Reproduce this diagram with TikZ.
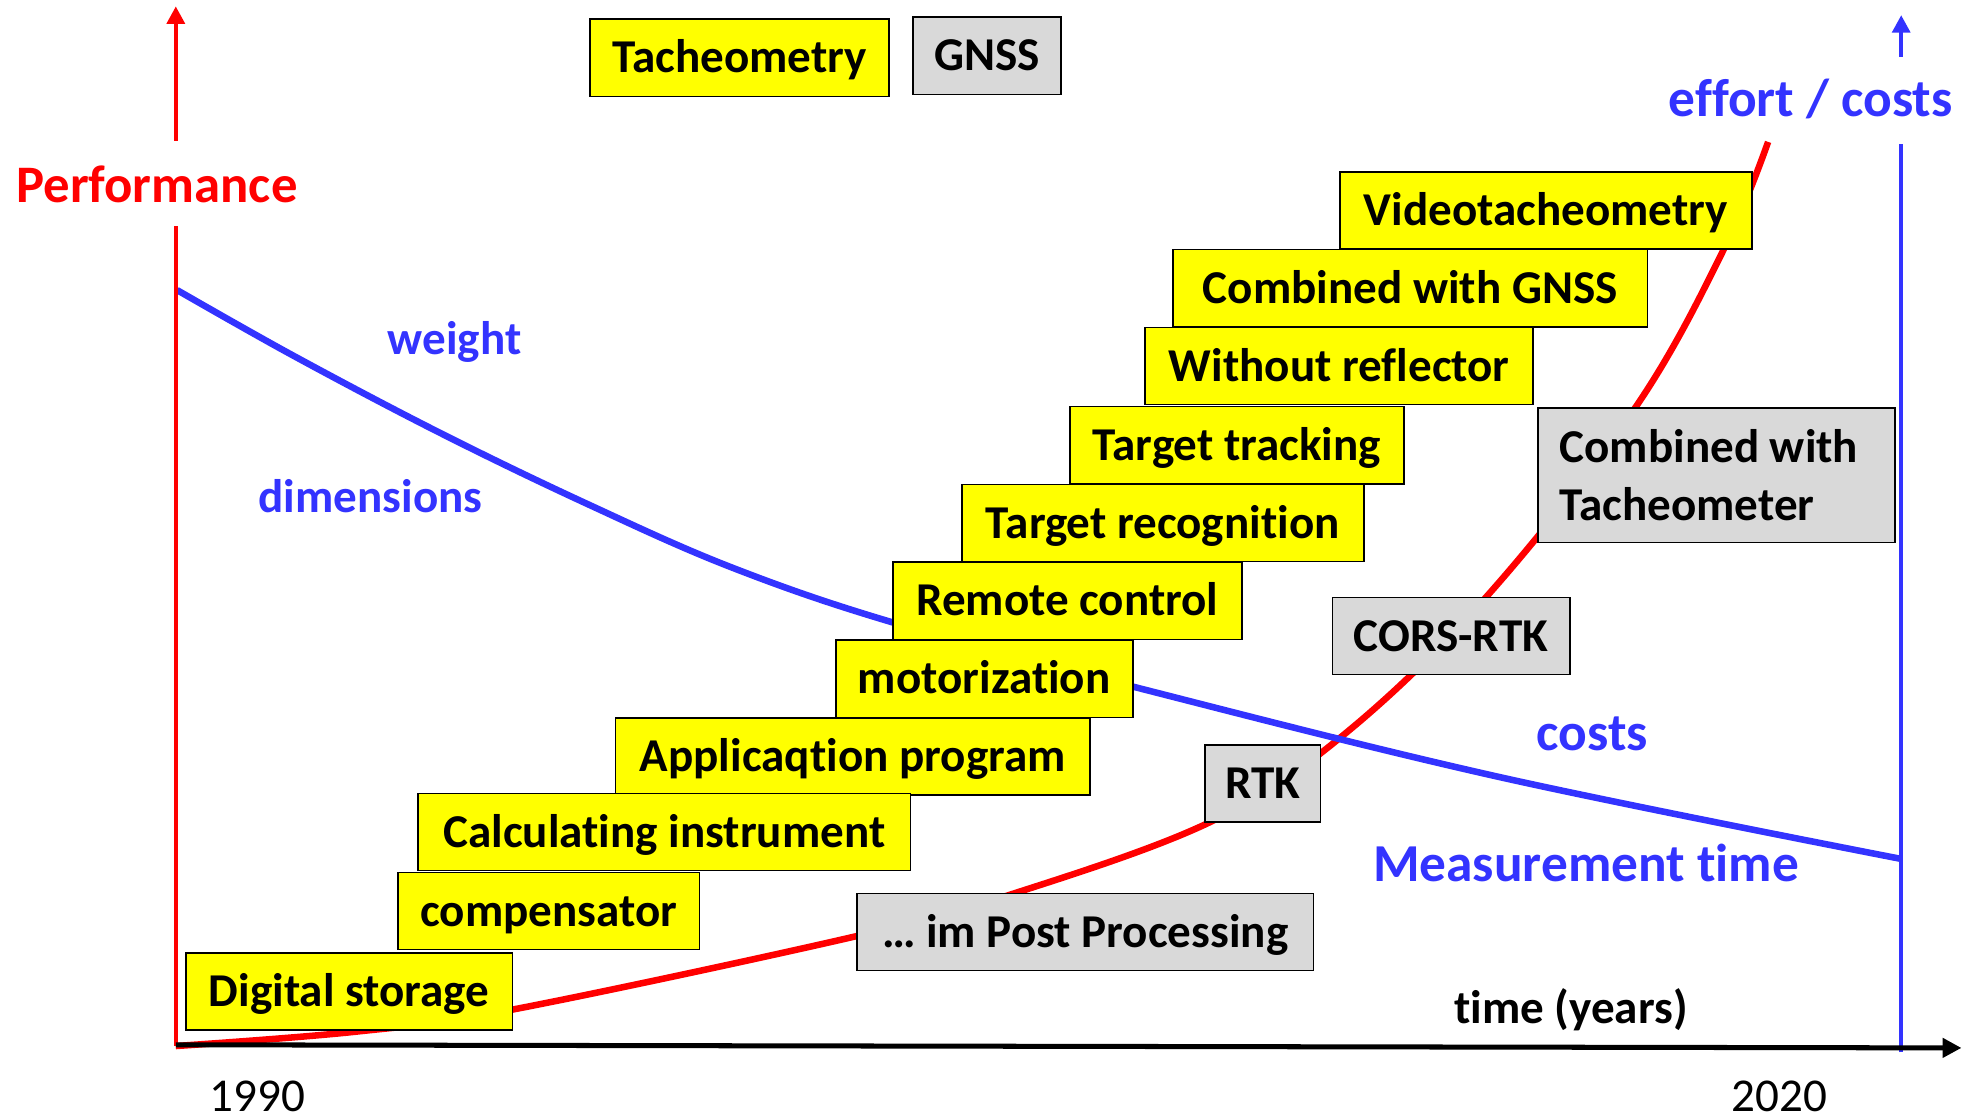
\documentclass[tikz,border=0pt]{standalone}
\usepackage{fontspec}
\setmainfont{Carlito}[Ligatures=NoCommon]
\usetikzlibrary{arrows.meta}
\definecolor{boxyellow}{RGB}{255,255,0}
\definecolor{boxgray}{RGB}{217,217,217}
\definecolor{curveblue}{RGB}{51,51,255}
\definecolor{axisred}{RGB}{255,0,0}
\tikzset{
  lbl/.style={inner sep=0pt, text height=24pt, text depth=0pt,
    font=\fontsize{37.5}{46}\selectfont\bfseries},
  biglbl/.style={inner sep=0pt, text height=26pt, text depth=0pt,
    font=\fontsize{42.5}{50}\selectfont\bfseries},
  yearlbl/.style={inner sep=0pt, text height=24pt, text depth=0pt,
    font=\fontsize{37.5}{46}\selectfont},
  ybox/.style={draw=black, line width=1.3pt, fill=boxyellow, inner sep=0pt,
    minimum height=61.5pt, text height=24pt, text depth=0pt,
    font=\fontsize{37.5}{46}\selectfont\bfseries},
  gbox/.style={ybox, fill=boxgray},
  redaxis/.style={draw=axisred, line width=3.5pt},
  blueaxis/.style={draw=curveblue, line width=3.5pt},
  timeaxis/.style={draw=black, line width=4pt},
  curve/.style={line width=5.2pt},
  tip/.style={-{Triangle[length=14pt,width=14pt]}},
}
\begin{document}
\begin{tikzpicture}[x=1pt,y=-1pt]
\path[use as bounding box, fill=white] (0,0) rectangle (1568,890);

% axes
\coordinate (O) at (140,833);
\coordinate (ytip) at (140,5);
\coordinate (ygaplow) at (140,180);
\coordinate (ygaphigh) at (140,112);
\coordinate (xstart) at (140,832);
\coordinate (xtip) at (1562,834.5);
\coordinate (bbase) at (1514,838);
\coordinate (bgaplow) at (1514,115);
\coordinate (bgaphigh) at (1514,45);
\coordinate (btip) at (1514,12);

% performance curve (red) and weight / cost curve (blue)
\draw[curve, axisred] plot[smooth, tension=0.6] coordinates {
  (140,833) (284,821.5) (408,804) (682,745.5) (809,711) (964,654.5)
  (1069,586) (1183,476) (1302,325) (1373,198) (1408,113)};
\draw[curve, curveblue] plot[smooth, tension=0.6] coordinates {
  (141,231) (235,284) (351,345) (467,401) (583,452) (712,496)
  (903,547) (1195,619) (1514,684)};

\draw[redaxis] (O) -- (ygaplow);
\draw[redaxis, tip] (ygaphigh) -- (ytip);
\draw[blueaxis] (bbase) -- (bgaplow);
\draw[blueaxis, tip] (bgaphigh) -- (btip);
\draw[timeaxis, -{Triangle[length=15pt,width=15pt]}] (xstart) -- (xtip);

% axis labels
\node[biglbl, text=axisred, font=\fontsize{42}{50}\selectfont\bfseries] (perf) at (125,148) {Performance};
\node[biglbl, text=curveblue] (effort) at (1442,80) {effort / costs};
\node[lbl, text=curveblue] (weight) at (362,270) {weight};
\node[lbl, text=curveblue] (dims) at (295,396) {dimensions};
\node[biglbl, text=curveblue] (costs) at (1268,585) {costs};
\node[biglbl, text=curveblue] (meas) at (1263,689) {Measurement time};
\node[lbl] (time) at (1251,803) {time (years)};
\node[yearlbl] (y1990) at (205,873) {1990};
\node[yearlbl] (y2020) at (1417,873) {2020};

% legend
\node[ybox, minimum width=238pt] (tach) at (589,46) {Tacheometry};
\node[gbox, minimum width=118pt] (gnss) at (786,44.5) {GNSS};

% tacheometer milestones
\node[ybox, minimum width=328pt] (video) at (1231,167.5) {Videotacheometry};
\node[ybox, minimum width=378pt] (combgnss) at (1123,229.5) {Combined with GNSS};
\node[ybox, minimum width=309pt] (noreflect) at (1066.5,291.5) {Without reflector};
\node[ybox, minimum width=266pt] (tracking) at (985,354.5) {Target tracking};
\node[ybox, minimum width=320pt] (recog) at (926,416.5) {Target recognition};
\node[ybox, minimum width=278pt] (remote) at (850,478.5) {Remote control};
\node[ybox, minimum width=236.5pt] (motor) at (783.75,540.5) {motorization};
\node[ybox, minimum width=378pt] (applic) at (679,602.5) {Applicaqtion program};
\node[ybox, minimum width=392pt] (calc) at (529,662.5) {Calculating instrument};
\node[ybox, minimum width=240pt] (comp) at (437,725.5) {compensator};
\node[ybox, minimum width=260pt] (digital) at (278,789.5) {Digital storage};

% GNSS milestones
\node[gbox, minimum height=107pt, text height=, text depth=, inner xsep=17pt,
  text width=250pt, align=flush left] (combtach) at (1367,378.5) {Combined with\\Tacheometer};
\node[gbox, minimum width=189pt] (cors) at (1155.5,506.5) {CORS-RTK};
\node[gbox, minimum width=92pt] (rtk) at (1005.5,624) {RTK};
\node[gbox, minimum width=363.5pt] (post) at (864.3,742.2) {… im Post Processing};
\end{tikzpicture}
\end{document}
